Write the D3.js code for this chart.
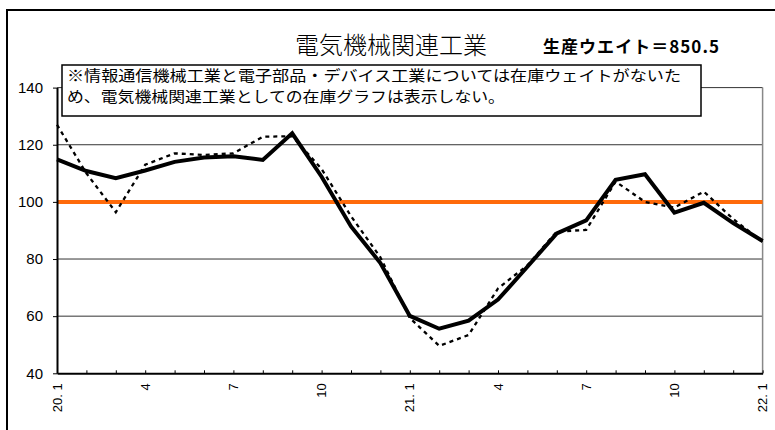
<!DOCTYPE html>
<html>
<head>
<meta charset="utf-8">
<script src="https://cdn.jsdelivr.net/npm/d3@7"></script>
<style>
body{margin:0;background:#fff;}
svg{display:block;}
</style>
</head>
<body>
<div id="graphe"></div>
<script>
// donnees (20.1 -> 22.1)
const mois = ["20.1","2","3","4","5","6","7","8","9","10","11","12",
              "21.1","2","3","4","5","6","7","8","9","10","11","12","22.1"];
const production = [114.9,110.8,108.3,111.0,114.0,115.5,116.0,114.7,124.0,108.8,91.4,78.6,
                    60.1,55.6,58.4,65.8,77.3,89.0,93.5,107.7,109.7,96.2,99.7,92.6,86.3];
const pointille = [127.0,110.0,96.4,113.0,117.0,116.4,117.0,122.8,123.0,111.5,95.0,80.6,
                   59.4,49.6,53.4,69.7,77.8,89.6,90.2,107.1,100.0,98.0,103.6,94.0,86.0];
const etiquettesX = ["20. 1","4","7","10","21. 1","4","7","10","22. 1"];
const positionsX = [0,3,6,9,12,15,18,21,24];
const ticksY = [40,60,80,100,120,140];
const grilleY = [60,80,120,140];
const titre = "電気機械関連工業";
const poids = "生産ウエイト＝850.5";
const note = ["※情報通信機械工業と電子部品・デバイス工業については在庫ウェイトがないた",
              "め、電気機械関連工業としての在庫グラフは表示しない。"];

const largeur = 775, hauteur = 430;
const gauche = 57, droite = 762.6, haut = 87.6, bas = 373.3;
const jp = "'Noto Sans CJK JP', sans-serif";

const svg = d3.select("#graphe").append("svg")
    .attr("width", largeur).attr("height", hauteur);

// cadre exterieur
svg.append("rect").attr("x",7).attr("y",10).attr("width",900).attr("height",600)
    .attr("fill","white").attr("stroke","black").attr("stroke-width",2);

const x = d3.scaleLinear().domain([0, mois.length-1]).range([gauche, droite]);
const y = d3.scaleLinear().domain([40,140]).range([bas, haut]);

// grille
svg.selectAll(".grille").data(grilleY).enter().append("line")
    .attr("x1",gauche).attr("x2",droite)
    .attr("y1",d=>y(d)).attr("y2",d=>y(d))
    .attr("stroke","#333").attr("stroke-width",1);

// bord droit
svg.append("line").attr("x1",droite).attr("x2",droite).attr("y1",y(140)).attr("y2",bas)
    .attr("stroke","#888").attr("stroke-width",1.5);

// ligne 100
svg.append("line").attr("x1",gauche).attr("x2",droite).attr("y1",y(100)).attr("y2",y(100))
    .attr("stroke","#ff6a0a").attr("stroke-width",4);

// axes
const axeX = svg.append("g").attr("transform","translate(0,"+bas+")")
    .call(d3.axisBottom(x).tickValues(d3.range(mois.length)).tickSize(-3).tickSizeOuter(0).tickFormat(""));
axeX.select(".domain").attr("stroke-width",2);
axeX.selectAll(".tick line").attr("stroke-width",1);

const axeY = svg.append("g").attr("transform","translate("+gauche+",0)")
    .call(d3.axisLeft(y).tickValues(ticksY).tickSize(4).tickSizeOuter(0).tickPadding(10));
axeY.select(".domain").attr("stroke-width",2);
axeY.selectAll("text").attr("font-family","'Liberation Sans', Arial, sans-serif")
    .attr("font-size",15).attr("fill","black");

// etiquettes x tournees
svg.selectAll(".etiq").data(positionsX).enter().append("text")
    .attr("transform",d=>"translate("+x(d)+","+(bas+10)+") rotate(-90)")
    .attr("text-anchor","end").attr("dy","0.35em")
    .attr("font-family","'Liberation Sans', Arial, sans-serif").attr("font-size",13)
    .text((d,i)=>etiquettesX[i]);

// courbes
const ligne = d3.line().x((d,i)=>x(i)).y(d=>y(d));
svg.append("path").attr("d",ligne(pointille)).attr("fill","none")
    .attr("stroke","black").attr("stroke-width",2.3).attr("stroke-dasharray","4,4");
svg.append("path").attr("d",ligne(production)).attr("fill","none")
    .attr("stroke","black").attr("stroke-width",4).attr("stroke-linejoin","miter");

// titre
svg.append("text").attr("x",391).attr("y",54).attr("text-anchor","middle")
    .attr("font-family",jp).attr("font-size",24).attr("font-weight",300).text(titre);
svg.append("text").attr("x",543).attr("y",53)
    .attr("font-family",jp).attr("font-size",17).attr("font-weight","bold")
    .attr("textLength",176).text(poids);

// encadre de la note
svg.append("rect").attr("x",62).attr("y",65).attr("width",639).attr("height",51)
    .attr("fill","white").attr("stroke","black").attr("stroke-width",1.5);
svg.selectAll(".note").data(note).enter().append("text")
    .attr("x",67).attr("y",(d,i)=>81+i*21)
    .attr("font-family",jp).attr("font-size",15)
    .attr("textLength",(d,i)=>i==0?614:438).attr("lengthAdjust","spacingAndGlyphs")
    .text(d=>d);
</script>
</body>
</html>
